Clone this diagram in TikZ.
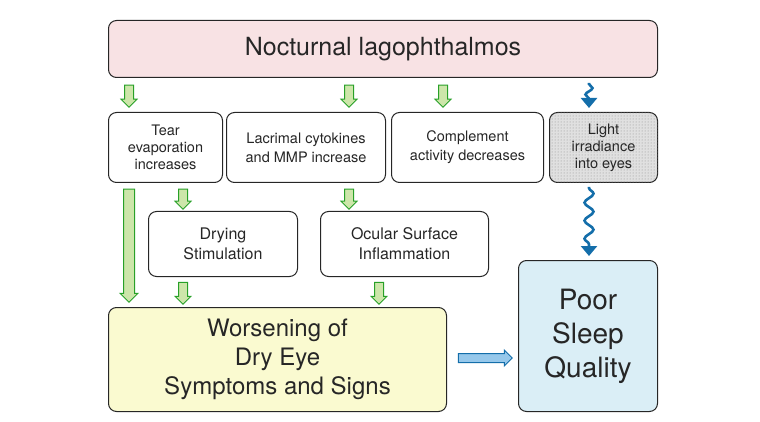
\documentclass[tikz,border=0pt]{standalone}
\usepackage{fontspec}
\setmainfont{TeX Gyre Heros}
\usetikzlibrary{shapes.arrows,patterns,decorations.pathmorphing,arrows.meta}
\definecolor{gline}{RGB}{40,160,40}
\definecolor{gfill}{RGB}{205,230,170}
\definecolor{bl}{RGB}{20,110,170}
\begin{document}
\begin{tikzpicture}[x=1pt,y=-1pt,
 box/.style={draw=black!85,line width=1pt,rounded corners=8pt,align=center,anchor=north west,inner sep=0pt,text=black!85},
 garrow/.style={single arrow,draw=gline,fill=gfill,line width=1pt,shape border rotate=270,minimum width=16pt,single arrow head extend=3.5pt,inner sep=4pt},
 wave/.style={bl,line width=2.6pt,decorate,decoration={snake,segment length=18pt,amplitude=4.5pt,post length=10pt,pre length=1pt},-{Triangle[length=10pt,width=16pt]}}]
\useasboundingbox (0,0) rectangle (760,422);
\node[box,fill={rgb,255:red,248;green,226;blue,228},minimum width=549pt,minimum height=57pt,font=\fontsize{25}{30}\selectfont] (top) at (108,20) {Nocturnal lagophthalmos};
\node[box,minimum width=114pt,minimum height=70pt,font=\fontsize{14.5}{17}\selectfont] (tear) at (108,112) {Tear\\evaporation\\increases};
\node[box,minimum width=159pt,minimum height=70pt,font=\fontsize{14.5}{19}\selectfont] (lac) at (226,112) {Lacrimal cytokines\\and MMP increase};
\node[box,minimum width=152pt,minimum height=70pt,font=\fontsize{14.5}{19}\selectfont] (comp) at (391,112) {Complement\\activity decreases};
\node[box,fill=black!12,postaction={pattern=dots,pattern color=black!45},minimum width=108pt,minimum height=70pt,font=\fontsize{14.5}{17}\selectfont] (light) at (549,112) {Light\\irradiance\\into eyes};
\node[box,minimum width=149pt,minimum height=65pt,font=\fontsize{16}{20}\selectfont] (dry) at (148,211) {Drying\\Stimulation};
\node[box,minimum width=168pt,minimum height=65pt,font=\fontsize{16}{20}\selectfont] (ocu) at (320,211) {Ocular Surface\\Inflammation};
\node[box,fill={rgb,255:red,250;green,250;blue,208},minimum width=338pt,minimum height=104pt,font=\fontsize{24}{29}\selectfont] (wor) at (108,307) {Worsening of\\Dry Eye\\Symptoms and Signs};
\node[box,fill={rgb,255:red,218;green,238;blue,246},minimum width=139pt,minimum height=151pt,font=\fontsize{28}{34}\selectfont] (sleep) at (518,260) {Poor\\Sleep\\Quality};
% green arrows
\node[garrow,minimum height=22pt] (a1) at (129,94) {};
\node[garrow,minimum height=22pt] (a2) at (349,94) {};
\node[garrow,minimum height=22pt] (a3) at (443,94) {};
\node[garrow,minimum height=20pt] (a4) at (183,197) {};
\node[garrow,minimum height=20pt] (a5) at (349,197) {};
\node[garrow,minimum height=22pt] (a6) at (183,291) {};
\node[garrow,minimum height=22pt] (a7) at (379,291) {};
\node[garrow,minimum height=113pt,inner sep=5pt,minimum width=18pt] (a8) at (129,243) {};
% blue block arrow
\node[single arrow,draw=bl,fill={rgb,255:red,150;green,200;blue,235},line width=1pt,minimum height=54pt,minimum width=16pt,single arrow head extend=3.5pt,inner sep=4pt] (a9) at (483,358) {};
% wavy
\coordinate (w1) at (589,83);
\coordinate (w2) at (589,108);
\draw[wave,decoration={segment length=13pt,amplitude=3.5pt,post length=8pt}] (w1) -- (w2);
\coordinate (w3) at (589,187);
\coordinate (w4) at (589,256);
\draw[wave] (w3) -- (w4);
\end{tikzpicture}
\end{document}
